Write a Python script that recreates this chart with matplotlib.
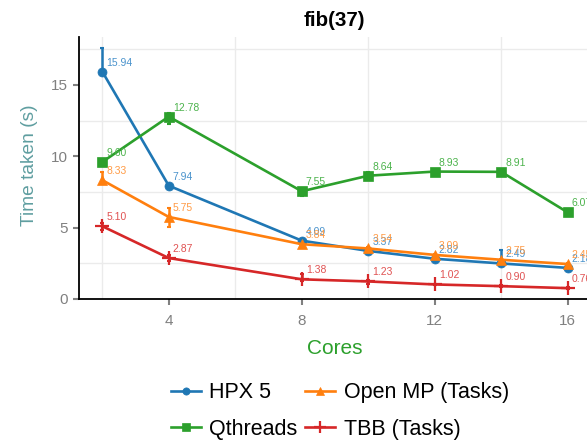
import matplotlib
matplotlib.use("Agg")
import matplotlib.pyplot as plt
import numpy as np

plt.rcParams['font.family'] = ['Liberation Sans', 'DejaVu Sans']

cores = [2, 4, 8, 10, 12, 14, 16]

hpx = [15.94, 7.94, 4.09, 3.37, 2.82, 2.49, 2.18]
hpx_lo = [0.10, 0.10, 0.10, 0.08, 0.08, 0.05, 0.05]
hpx_hi = [1.65, 0.10, 0.10, 0.08, 0.08, 0.95, 0.05]

omp = [8.33, 5.75, 3.84, 3.54, 3.09, 2.75, 2.45]
omp_lo = [0.10, 0.70, 0.20, 0.08, 0.08, 0.08, 0.05]
omp_hi = [0.55, 0.65, 0.10, 0.08, 0.08, 0.08, 0.05]

qth = [9.60, 12.78, 7.55, 8.64, 8.93, 8.91, 6.07]
qth_lo = [0.10, 0.55, 0.35, 0.10, 0.05, 0.05, 0.05]
qth_hi = [0.10, 0.25, 0.10, 0.25, 0.05, 0.05, 0.05]

tbb = [5.10, 2.87, 1.38, 1.23, 1.02, 0.90, 0.76]
tbb_lo = [0.25, 0.20, 0.10, 0.15, 0.05, 0.05, 0.05]
tbb_hi = [0.25, 0.20, 0.35, 0.10, 0.05, 0.05, 0.05]

series = [
    ("HPX 5", hpx, hpx_lo, hpx_hi, "#1f77b4", "#4a93cc", "o", 6.5, 1.0),
    ("Open MP (Tasks)", omp, omp_lo, omp_hi, "#ff7f0e", "#ff9b45", "^", 7.5, 1.0),
    ("Qthreads", qth, qth_lo, qth_hi, "#2ca02c", "#4cb34c", "s", 7.0, 1.0),
    ("TBB (Tasks)", tbb, tbb_lo, tbb_hi, "#d62728", "#e05252", "+", 10.0, 1.6),
]

W, H = 587, 442
fig = plt.figure(figsize=(W / 100, H / 100), dpi=100)
ax = fig.add_axes([79 / W, (H - 299) / H, (591 - 79) / W, (299 - 37) / H])

# light minor-style grid
for gx in [2, 6, 10, 14]:
    ax.axvline(gx, color="#ebebeb", lw=1.0, zorder=0)
for gy in [2.5, 7.5, 12.5, 17.5]:
    ax.axhline(gy, color="#ebebeb", lw=1.0, zorder=0)

handles = {}
for name, vals, lo, hi, col, lcol, mk, ms, mew in series:
    ax.errorbar(cores, vals, yerr=[lo, hi], fmt="none", ecolor=col,
                elinewidth=1.8, capsize=1.5, capthick=1.5, zorder=2)
    h, = ax.plot(cores, vals, color=col, lw=1.9, marker=mk, markersize=ms,
                 markeredgewidth=mew if mk == "+" else 0.5,
                 markeredgecolor=col, label=name, zorder=3)
    handles[name] = h
    for x, v in zip(cores, vals):
        ax.annotate(f"{v:.2f}", (x, v), xytext=(3, 6.5), textcoords="offset points",
                    ha="left", va="center", fontsize=7.5, color=lcol,
                    zorder=4, annotation_clip=False)

ax.set_xlim(1.3, 16.7)
ax.set_ylim(0, 18.36)
ax.set_xticks([4, 8, 12, 16])
ax.set_yticks([0, 5, 10, 15])
ax.tick_params(axis="both", colors="#808080", labelcolor="#808080",
               labelsize=11, length=4, width=1.5, direction="out")
ax.tick_params(axis="x", pad=7)
ax.tick_params(axis="y", pad=4)

for s in ["top", "right"]:
    ax.spines[s].set_visible(False)
for s in ["left", "bottom"]:
    ax.spines[s].set_color("black")
    ax.spines[s].set_linewidth(1.3)

fig.text(334 / W, 1 - 20 / H, "fib(37)", ha="center", va="center",
         fontsize=14.8, fontweight="bold")
fig.text(30 / W, 1 - 165 / H, "Time taken (s)", rotation=90, ha="center",
         va="center", fontsize=13.8, color="#5f9ea0")
fig.text(335 / W, 1 - 349 / H, "Cores", ha="center", va="center",
         fontsize=15, color="#2ca02c")

# row-wise order: HPX 5, Open MP / Qthreads, TBB
order = ["HPX 5", "Qthreads", "Open MP (Tasks)", "TBB (Tasks)"]
fig.legend(handles=[handles[k] for k in order], loc="center",
           bbox_to_anchor=(340 / W, 1 - 411 / H),
           ncol=2, frameon=False, fontsize=15.5, handlelength=1.4,
           handletextpad=0.4, columnspacing=0.35, labelspacing=0.7,
           markerscale=0.8, borderpad=0.2)

fig.savefig("out.png", dpi=100)
